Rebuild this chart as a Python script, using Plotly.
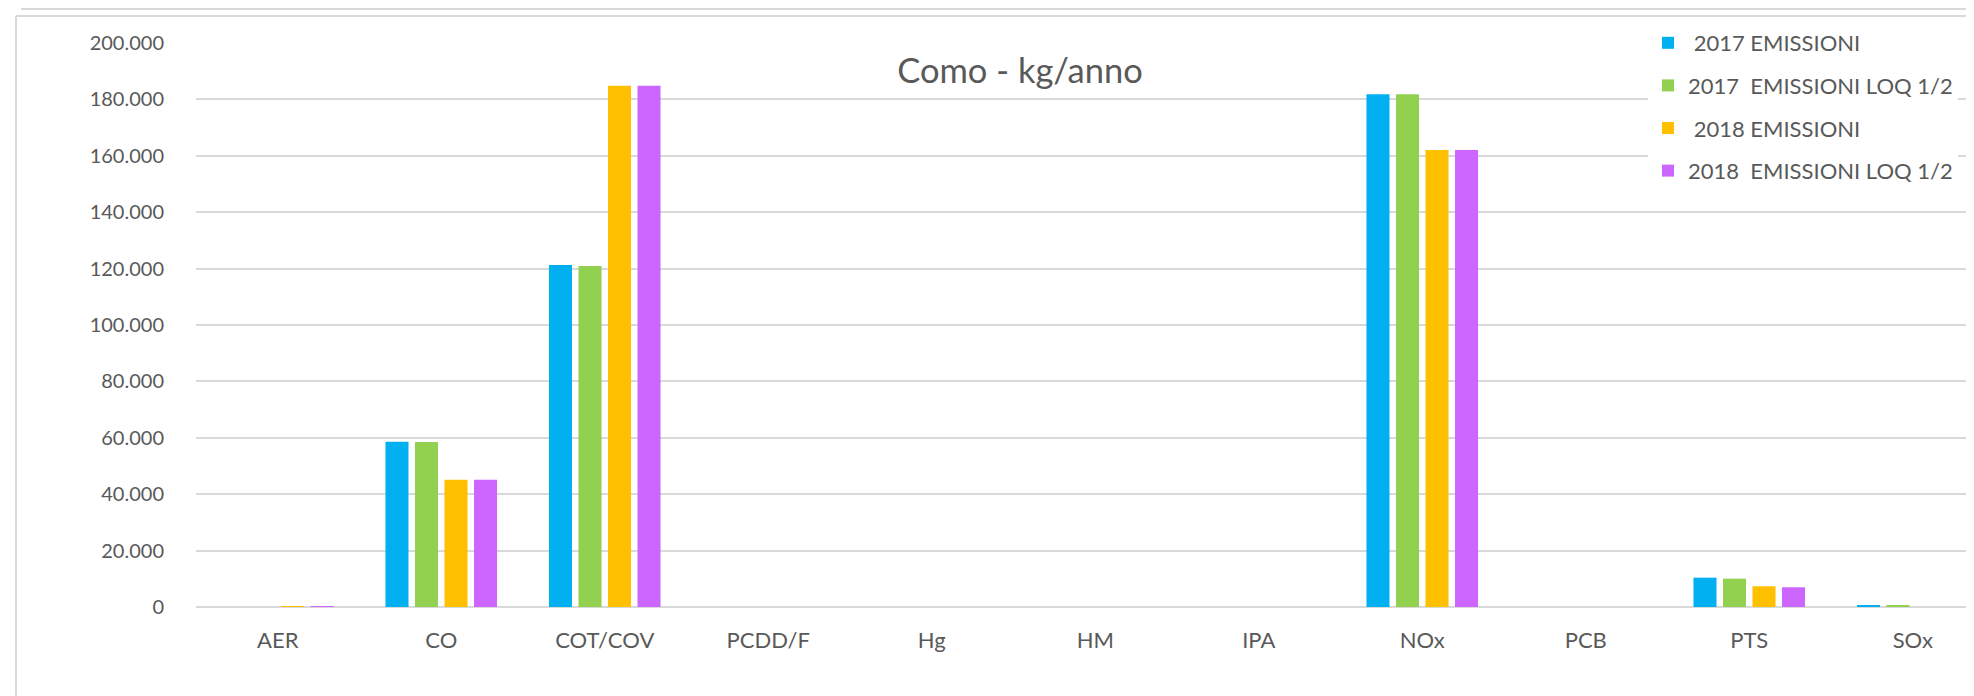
import plotly.graph_objects as go

categories = ["AER", "CO", "COT/COV", "PCDD/F", "Hg", "HM", "IPA", "NOx", "PCB", "PTS", "SOx"]
emissioni_2017 = [0.5, 58600, 121300, 0.001, 0.3, 0.8, 0.2, 181800, 0.01, 10400, 450]
emissioni_loq_2017 = [0.5, 58500, 120900, 0.001, 0.3, 0.8, 0.2, 181800, 0.01, 10050, 450]
emissioni_2018 = [120, 45100, 184800, 0.001, 0.2, 0.6, 0.1, 162100, 0.01, 7350, 0.8]
emissioni_loq_2018 = [120, 45100, 184800, 0.001, 0.2, 0.6, 0.1, 162100, 0.01, 7000, 0.8]

series_names = ["\u00a02017 EMISSIONI", "2017\u00a0 EMISSIONI LOQ 1/2",
                "\u00a02018 EMISSIONI", "2018\u00a0 EMISSIONI LOQ 1/2"]
series_values = [emissioni_2017, emissioni_loq_2017, emissioni_2018, emissioni_loq_2018]
series_colors = ["#00B0F0", "#92D050", "#FFC000", "#CC66FF"]
y_ticks = [0, 20000, 40000, 60000, 80000, 100000, 120000, 140000, 160000, 180000, 200000]

FONT = "Lato"
TXT = "#595959"
GRID = "#d9d9d9"

fig = go.Figure()
for i, (name, vals, col) in enumerate(zip(series_names, series_values, series_colors)):
    fig.add_trace(go.Bar(x=categories, y=vals, name=name, marker_color=col,
                         marker_line_width=0, legendgroup=f"g{i}"))

W, H = 1974, 696
L, T, B = 188, 35, 97
PW, PH = W - L, H - T - B
step = 163.5
xmax = -0.5 + PW / step


def px(x):
    return (x - L) / PW


def py(y):
    return (H - B - y) / PH


fig.update_layout(
    width=W, height=H,
    margin=dict(l=L, r=0, t=T, b=B, pad=0, autoexpand=False),
    paper_bgcolor="white", plot_bgcolor="white",
    barmode="group", bargap=0.278, bargroupgap=0.22,
    separators=",.",
    font=dict(family=FONT, color=TXT, size=20),
    title=dict(text="Como - kg/anno", font=dict(family=FONT, size=34.5, color=TXT),
               xref="container", x=1012 / W, xanchor="center",
               yref="container", y=1 - 63 / H, yanchor="middle"),
    showlegend=True,
    legend=dict(x=px(1640), xanchor="left", xref="paper",
                y=py(14), yanchor="top", yref="paper",
                bgcolor="white", borderwidth=0,
                font=dict(family=FONT, size=22, color=TXT),
                tracegroupgap=11, traceorder="grouped"),
    xaxis=dict(range=[-0.5, xmax], showgrid=False, showline=False, ticks="",
               tickfont=dict(family=FONT, size=22, color=TXT), ticklabelstandoff=18,
               fixedrange=True),
    yaxis=dict(range=[0, 200000], tickvals=y_ticks, tickformat=",d",
               showgrid=True, gridcolor=GRID, gridwidth=2,
               zeroline=True, zerolinecolor=GRID, zerolinewidth=2,
               showline=False, ticks="", ticklabelstandoff=31,
               tickfont=dict(family=FONT, size=20, color=TXT), fixedrange=True),
    shapes=[
        dict(type="line", xref="paper", yref="paper", x0=px(8), x1=1,
             y0=py(8), y1=py(8), line=dict(color=GRID, width=2)),
        dict(type="line", xref="paper", yref="paper", x0=px(8), x1=px(8),
             y0=py(8), y1=py(H), line=dict(color=GRID, width=2)),
        dict(type="line", xref="paper", yref="paper", x0=px(13), x1=1,
             y0=py(1), y1=py(1), line=dict(color=GRID, width=2)),
    ],
)

fig.write_html("out.html")
